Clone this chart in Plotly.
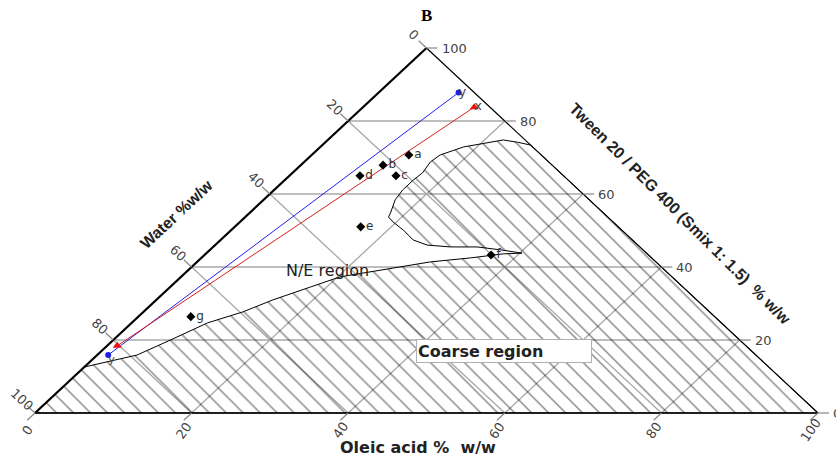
import plotly.graph_objects as go

# ---------------- data (ternary: oleic, tween; water = 100 - oleic - tween) ----------------
TICKS = [0, 20, 40, 60, 80, 100]
GRID = [20, 40, 60, 80]

# coarse (hatched) region boundary
coarse_oleic = [0, 100, 26.6, 24.5, 22.4, 20.8, 18.3, 16.4, 16.1, 16.6, 16.4, 16.4, 16.8,
                18.0, 18.3, 19.6, 22.0, 24.6, 27.1, 30.3, 33.7, 37.1, 40.3, 38.0, 34.4,
                29.8, 24.5, 20.3, 17.9, 14.9, 12.7, 9.7, 7.3, 5.1, 0, 0]
coarse_tween = [0, 0, 73.4, 74.2, 74.8, 74.0, 72.9, 70.7, 68.8, 65.8, 63.8, 61.1, 58.4,
                54.8, 53.7, 52.3, 50.1, 47.4, 46.0, 45.5, 45.5, 44.7, 43.8, 43.6, 42.5,
                41.4, 39.2, 37.3, 34.5, 31.0, 27.7, 24.7, 20.0, 15.9, 12.6, 0]

# formulations
form_names = ["a", "b", "c", "d", "e", "f", "g"]
form_oleic = [12.4, 10.5, 13.6, 9.0, 16.1, 36.6, 6.7]
form_tween = [70.7, 67.9, 65.0, 65.0, 51.0, 43.3, 26.4]

# dilution lines
line_x_oleic = [14.2, 1.3]
line_x_tween = [83.8, 18.4]
line_y_oleic = [10.2, 1.4]
line_y_tween = [87.8, 15.9]

# ---------------- geometry ----------------
W, H = 836, 464
PX_X = 7.83   # pixels per X unit
PX_Y = 3.65   # pixels per Y unit
X0_PX, Y0_PX = 35, 413


def to_xy(oleic, tween):
    return [o + t / 2 for o, t in zip(oleic, tween)], list(tween)


def pt(o, t):
    return o + t / 2, t


FONT = "Liberation Sans, Arial, sans-serif"
WIDE = "DejaVu Sans, Verdana, sans-serif"
fig = go.Figure()

# grid lines
gx, gy = [], []
for v in GRID:
    for a, b in [((0, v), (100 - v, v)),            # tween = v
                 ((v, 0), (v, 100 - v)),            # oleic = v
                 ((100 - v, 0), (0, 100 - v))]:     # water = v
        p, q = pt(*a), pt(*b)
        gx += [p[0], q[0], None]
        gy += [p[1], q[1], None]
fig.add_trace(go.Scatter(x=gx, y=gy, mode="lines", line=dict(color="#a8a8a8", width=1.3),
                         hoverinfo="skip", showlegend=False))

# hatched coarse region
cx, cy = to_xy(coarse_oleic, coarse_tween)
fig.add_trace(go.Scatter(x=cx, y=cy, mode="lines", fill="toself",
                         fillcolor="rgba(0,0,0,0)",
                         fillpattern=dict(shape="\\", size=12, solidity=0.11,
                                          fgcolor="black", bgcolor="rgba(0,0,0,0)"),
                         line=dict(color="black", width=1), hoverinfo="skip", showlegend=False))

# triangle outline
for (a, b, w) in [((0, 0), (0, 100), 2.2), ((0, 100), (100, 0), 1.2), ((0, 0), (100, 0), 1.6)]:
    p, q = pt(*a), pt(*b)
    fig.add_trace(go.Scatter(x=[p[0], q[0]], y=[p[1], q[1]], mode="lines",
                             line=dict(color="black", width=w), hoverinfo="skip", showlegend=False))

# ticks
tx, ty = [], []
annotations = []
tick_font = dict(family=WIDE, size=13, color="#444")
for v in TICKS:
    # right axis (tween)
    ex, ey = pt(100 - v, v)
    tx += [ex, ex + 11 / PX_X, None]
    ty += [ey, ey, None]
    annotations.append(dict(x=ex + 11 / PX_X, y=ey, text=str(v), showarrow=False, xanchor="left",
                            yanchor="middle", xshift=2, font=tick_font))
    # left axis (water)
    ex, ey = pt(0, 100 - v)
    d = 2
    tx += [ex, ex - d / 2, None]
    ty += [ey, ey + d, None]
    annotations.append(dict(x=ex, y=ey, text=str(v), showarrow=False, xshift=-13, yshift=14,
                            xanchor="center", yanchor="middle", textangle=43, font=tick_font))
    # bottom axis (oleic)
    ex, ey = pt(v, 0)
    tx += [ex, ex - d / 2, None]
    ty += [ey, ey - d, None]
    annotations.append(dict(x=ex, y=ey, text=str(v), showarrow=False, xshift=-8, yshift=-17,
                            xanchor="center", yanchor="middle", textangle=-55, font=tick_font))
fig.add_trace(go.Scatter(x=tx, y=ty, mode="lines", line=dict(color="#888", width=1.2),
                         hoverinfo="skip", showlegend=False))

# dilution lines
rx, ry = to_xy(line_x_oleic, line_x_tween)
bx, by = to_xy(line_y_oleic, line_y_tween)
fig.add_trace(go.Scatter(x=bx, y=by, mode="lines+markers", line=dict(color="#1f1fe6", width=1),
                         marker=dict(symbol="circle", size=6, color="#1f1fe6"),
                         hoverinfo="skip", showlegend=False))
fig.add_trace(go.Scatter(x=rx, y=ry, mode="lines+markers", line=dict(color="#d42020", width=1),
                         marker=dict(symbol="triangle-up", size=8, color="#f01010"),
                         hoverinfo="skip", showlegend=False))
fig.add_trace(go.Scatter(x=[bx[0], rx[0]], y=[by[0], ry[0]], mode="text", text=["y", "x"],
                         textposition="middle right", textfont=dict(family=WIDE, size=13, color="#444"),
                         hoverinfo="skip", showlegend=False))
fig.add_trace(go.Scatter(x=[bx[1]], y=[by[1]], mode="text", text=["y"],
                         textposition="bottom right", textfont=dict(family=WIDE, size=11, color="#444"),
                         hoverinfo="skip", showlegend=False))

# formulations
fx, fy = to_xy(form_oleic, form_tween)
fig.add_trace(go.Scatter(x=fx, y=fy, mode="markers+text", text=form_names,
                         textposition="middle right",
                         textfont=dict(family=WIDE, size=12, color="#333"),
                         marker=dict(symbol="diamond", size=7, color="black"),
                         hoverinfo="skip", showlegend=False))

# titles and labels
C = dict(xref="paper", yref="paper", showarrow=False, xanchor="center", yanchor="middle")
annotations += [
    dict(C, x=426 / W, y=1 - 16 / H, text="<b>B</b>",
         font=dict(family="Liberation Serif, Times New Roman, serif", size=17, color="black")),
    dict(C, x=418 / W, y=1 - 447 / H, text="<b>Oleic acid %  w/w</b>",
         font=dict(family=WIDE, size=16, color="#222")),
    dict(C, x=176 / W, y=1 - 214 / H, text="<b>Water %w/w</b>",
         textangle=-43, font=dict(family=FONT, size=16, color="#222")),
    dict(C, x=680 / W, y=1 - 213 / H, text="<b>Tween 20 / PEG 400 (Smix 1: 1.5)  % w/w</b>",
         textangle=45, font=dict(family=FONT, size=16, color="#222")),
    dict(C, x=327 / W, y=1 - 270 / H, text="N/E region",
         font=dict(family=WIDE, size=16, color="#222")),
    dict(C, x=504 / W, y=1 - 351 / H, text="<b>Coarse region</b>",
         width=172, height=20, align="left", bgcolor="white",
         bordercolor="#b0b0b0", borderwidth=1, borderpad=1,
         font=dict(family=WIDE, size=16, color="#222")),
]

fig.update_layout(
    width=W, height=H, margin=dict(l=0, r=0, t=0, b=0),
    paper_bgcolor="white", plot_bgcolor="white",
    xaxis=dict(range=[-X0_PX / PX_X, (W - X0_PX) / PX_X], visible=False, fixedrange=True),
    yaxis=dict(range=[(Y0_PX - H) / PX_Y, Y0_PX / PX_Y], visible=False, fixedrange=True),
    annotations=annotations,
    showlegend=False,
)

fig.write_html("out.html", config={"displayModeBar": False},
               post_script="document.body.style.margin='0';document.body.style.overflow='hidden';")
